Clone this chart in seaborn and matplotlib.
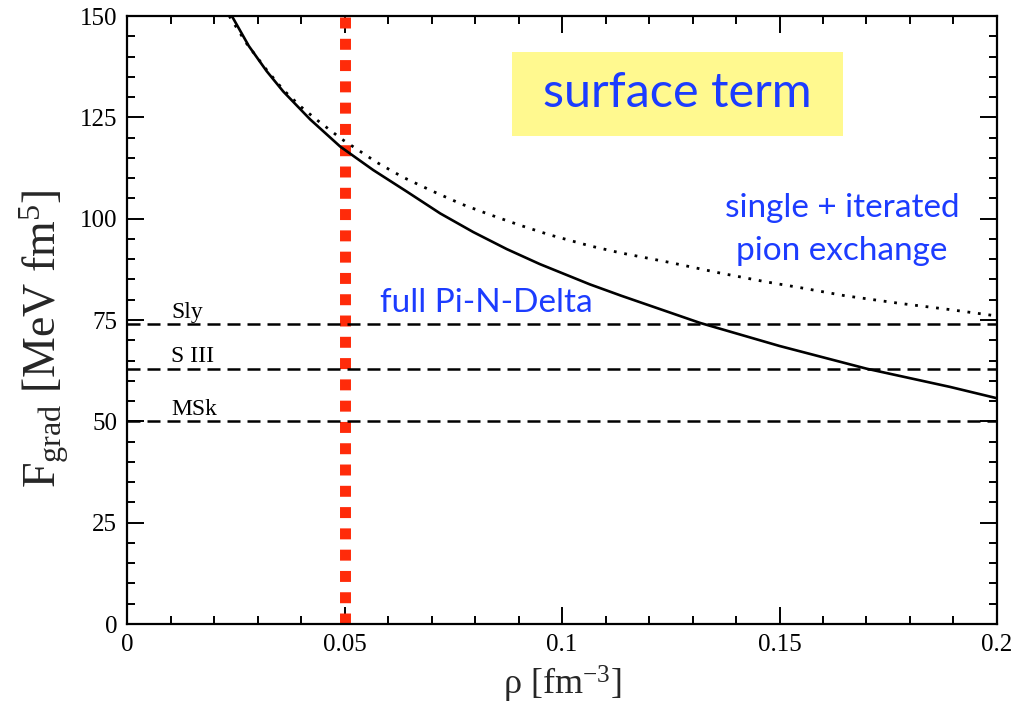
import matplotlib
matplotlib.use('Agg')
import matplotlib.pyplot as plt
import pandas as pd
import seaborn as sns
from matplotlib.ticker import MultipleLocator, FixedLocator, FixedFormatter
from matplotlib.patches import Rectangle

# ---- data ----
rho_full = [0.0241, 0.0280, 0.0321, 0.0359, 0.0421, 0.0490, 0.0566, 0.0643, 0.0720,
            0.0796, 0.0873, 0.0949, 0.1064, 0.1136, 0.1317, 0.1500, 0.1700, 0.1892, 0.2000]
F_full = [150.0, 142.6, 136.4, 131.4, 124.5, 117.8, 112.0, 106.7, 101.3,
          96.7, 92.5, 88.8, 83.8, 81.0, 74.3, 68.6, 63.0, 58.5, 55.7]

rho_pion = [0.0235, 0.0275, 0.0321, 0.0359, 0.0400, 0.0436, 0.0494, 0.0574, 0.0635,
            0.0700, 0.0769, 0.0834, 0.0903, 0.0972, 0.1064, 0.1133, 0.1248, 0.1363,
            0.1470, 0.1547, 0.1650, 0.1777, 0.1890, 0.2000]
F_pion = [150.0, 143.2, 136.7, 131.8, 127.6, 124.4, 119.6, 113.9, 110.2,
          106.9, 103.6, 101.0, 98.4, 96.0, 93.3, 91.6, 89.2, 86.6,
          84.4, 83.0, 81.0, 79.1, 77.6, 76.0]

skyrme_names = ['Sly', 'S III', 'MSk']
skyrme_values = [74, 63, 50]

cut_rho = 0.05

x_ticks = [0, 0.05, 0.1, 0.15, 0.2]
x_tick_labels = ['0', '0.05', '0.1', '0.15', '0.2']
y_ticks = [0, 25, 50, 75, 100, 125, 150]
y_tick_labels = ['0', '25', '50', '75', '100', '125', '150']

df_full = pd.DataFrame({'rho': rho_full, 'F': F_full})
df_pion = pd.DataFrame({'rho': rho_pion, 'F': F_pion})

# ---- style ----
sns.set_style('ticks')
plt.rcParams['font.family'] = ['Liberation Serif', 'DejaVu Serif']
plt.rcParams['mathtext.fontset'] = 'custom'
plt.rcParams['mathtext.rm'] = 'Liberation Serif'
plt.rcParams['mathtext.it'] = 'Liberation Serif:italic'
plt.rcParams['mathtext.bf'] = 'Liberation Serif:bold'

BLUE = '#1c3cff'
RED = '#ff2b0a'

fig = plt.figure(figsize=(10.13, 7.06), dpi=100)
ax = fig.add_axes([0.1254, 0.1161, 0.8588, 0.8612])

# vertical cut (red squares)
ax.axvline(cut_rho, color=RED, lw=7.9, linestyle=(0, (1, 0.94)),
           solid_capstyle='butt', dash_capstyle='butt', zorder=1)

# Skyrme horizontal lines
for name, v in zip(skyrme_names, skyrme_values):
    ax.axhline(v, color='black', lw=1.8, linestyle=(0, (5.2, 2.8)),
               dash_capstyle='butt', zorder=2)
    ax.text(0.0102, v + 1.6, name, fontsize=17, va='baseline', ha='left',
            color='black')

# curves
sns.lineplot(data=df_pion, x='rho', y='F', ax=ax, color='black', lw=2.0,
             linestyle=(0, (1, 2.8)), dash_capstyle='butt', sort=False,
             estimator=None, zorder=3)
sns.lineplot(data=df_full, x='rho', y='F', ax=ax, color='black', lw=1.9,
             sort=False, estimator=None, zorder=4)

ax.set_xlim(0, 0.2)
ax.set_ylim(0, 150)

ax.xaxis.set_major_locator(FixedLocator(x_ticks))
ax.xaxis.set_major_formatter(FixedFormatter(x_tick_labels))
ax.xaxis.set_minor_locator(MultipleLocator(0.01))
ax.yaxis.set_major_locator(FixedLocator(y_ticks))
ax.yaxis.set_major_formatter(FixedFormatter(y_tick_labels))
ax.yaxis.set_minor_locator(MultipleLocator(5))

ax.tick_params(which='both', direction='in', top=True, right=True,
               width=1.4, color='black', labelcolor='black')
ax.tick_params(which='major', length=12, labelsize=18, pad=7)
ax.tick_params(which='minor', length=6)

for sp in ax.spines.values():
    sp.set_linewidth(1.6)
    sp.set_color('black')

ax.set_xlabel('ρ [fm$^{-3}$]', fontsize=26, labelpad=6)
ax.set_ylabel(r'F$_{\mathrm{grad}}$ [MeV fm$^{5}$]', fontsize=33)
ax.yaxis.set_label_coords(-0.064, 0.47)

# annotations
ax.add_patch(Rectangle((0.4425, 0.8026), 0.3805, 0.1382, transform=ax.transAxes,
                       facecolor='#fff98f', edgecolor='none', zorder=0))
ax.text(0.6328, 0.8503, 'surface term', transform=ax.transAxes, fontsize=35,
        family='Lato', color=BLUE, ha='center', va='baseline', zorder=5)

ax.text(0.1644, 100.5, 'single + iterated', fontsize=24, family='Lato',
        color=BLUE, ha='center', va='baseline', zorder=5)
ax.text(0.1644, 89.8, 'pion exchange', fontsize=24, family='Lato',
        color=BLUE, ha='center', va='baseline', zorder=5)
ax.text(0.0582, 77.1, 'full Pi-N-Delta', fontsize=24, family='Lato',
        color=BLUE, ha='left', va='baseline', zorder=5)

fig.savefig('out.png', dpi=100)
